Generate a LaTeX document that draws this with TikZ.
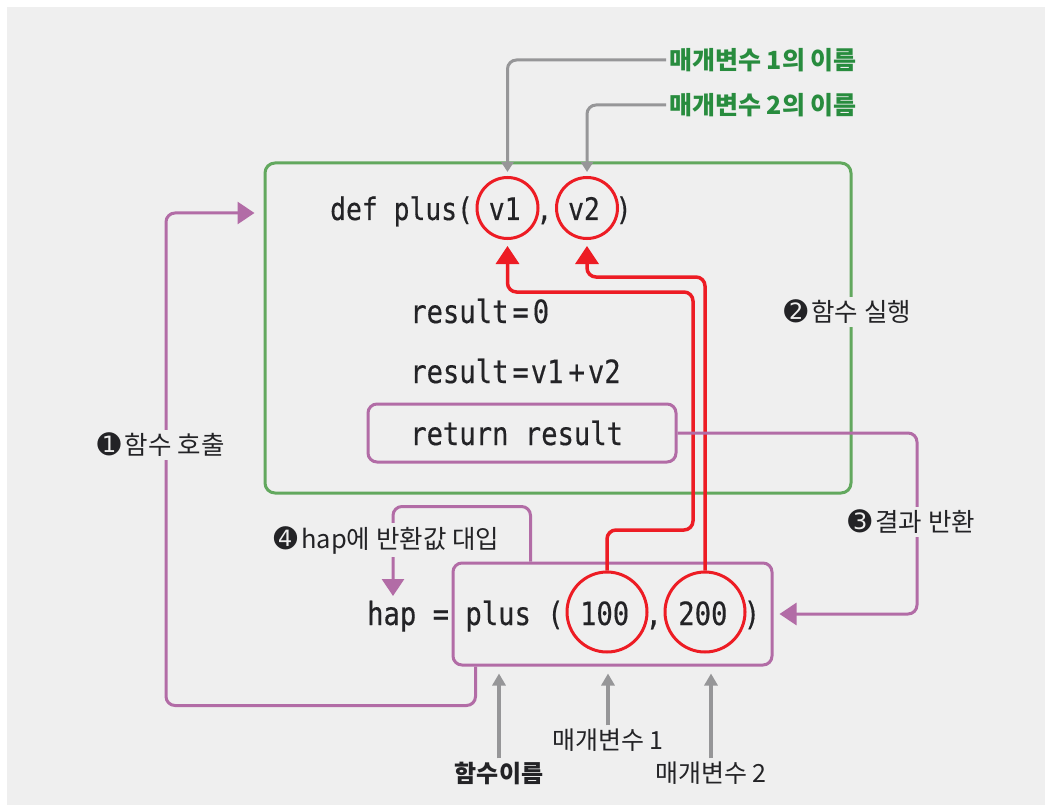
\documentclass[tikz,border=0pt]{standalone}
\usepackage{fontspec}
\usetikzlibrary{arrows.meta}
\setmainfont{Noto Sans CJK KR}
\newfontfamily\codefont[FakeStretch=0.85,FakeBold=0.4]{DejaVu Sans Mono}
\newfontfamily\djfont{DejaVu Sans}
\definecolor{bgc}{RGB}{239,239,239}
\definecolor{grn}{RGB}{98,168,94}
\definecolor{mag}{RGB}{178,108,166}
\definecolor{rdc}{RGB}{237,28,36}
\definecolor{gry}{RGB}{150,150,152}
\definecolor{lgrn}{RGB}{40,140,62}
\definecolor{txt}{RGB}{35,35,38}
\newcommand{\nummark}[1]{{\djfont\fontsize{28}{28}\selectfont #1}\kern4pt}
\begin{document}
\begin{tikzpicture}[x=1pt,y=-1pt,
  codetxt/.style={font=\codefont\fontsize{32}{36}\selectfont, text=txt, inner sep=0pt, anchor=base west},
  gbox/.style={draw=grn, line width=3pt, rounded corners=10pt, rectangle},
  mbox/.style={draw=mag, line width=3pt, rounded corners=9pt, rectangle},
  rcirc/.style={draw=rdc, line width=3pt, circle, inner sep=0pt},
  mline/.style={draw=mag, line width=3pt, rounded corners=9pt, -{Triangle[width=22pt,length=17pt]}},
  rline/.style={draw=rdc, line width=3.5pt, rounded corners=9pt, -{Triangle[width=23pt,length=18pt]}},
  gline/.style={draw=gry, line width=3pt, rounded corners=9pt, -{Triangle[width=12pt,length=10pt]}},
  garrow/.style={draw=gry, line width=4pt, -{Triangle[width=13pt,length=12pt]}},
  lab/.style={font=\fontsize{25}{28}\selectfont, text=txt, inner sep=3pt},
  steplab/.style={font=\fontsize{25.5}{28}\selectfont, text=txt, fill=bgc, inner sep=3pt},
  toplab/.style={font=\bfseries\fontsize{25}{28}\selectfont, text=lgrn, inner sep=3pt, anchor=west}
]
\useasboundingbox (0,0) rectangle (1051,810);
\fill[white] (0,0) rectangle (1051,810);
\fill[bgc] (7,7) rectangle (1045,805);

% boxes
\node[gbox, minimum width=586pt, minimum height=330pt] (func) at (558,328) {};
\node[mbox, minimum width=308pt, minimum height=58pt] (retbox) at (522,433) {};
\node[mbox, minimum width=319pt, minimum height=102pt] (callbox) at (612.5,614) {};

% code text
\node[codetxt, font=\codefont\fontsize{31}{36}\selectfont] (def) at (330,220) {def plus( v1 , v2 )};
\node[codetxt] (r0) at (410,323) {result\kern4pt=\kern4pt0};
\node[codetxt] (r1) at (410,383) {result\kern4pt=\kern2pt v1\kern5pt+\kern3pt v2};
\node[codetxt] (ret) at (410,445) {return result};
\node[codetxt] (hap) at (367,625) {hap = plus ( 100 , 200 )};

% circles
\node[rcirc, minimum size=61pt] (v1) at (507.5,208) {};
\node[rcirc, minimum size=61pt] (v2) at (587,208) {};
\node[rcirc, minimum size=80pt] (c100) at (607,612) {};
\node[rcirc, minimum size=80pt] (c200) at (705,612) {};

% top labels
\node[toplab] (p1name) at (666,60) {매개변수 1의 이름};
\node[toplab] (p2name) at (666,105) {매개변수 2의 이름};
\draw[gline, shorten >=4pt] (p1name.west) -| (v1.north);
\draw[gline, shorten >=4pt] (p2name.west) -| (v2.north);

% red argument lines
\draw[rline, shorten >=6pt] (c100.north) |- (693,530) -- (693,292) -| (v1.south);
\draw[rline, shorten >=6pt] (c200.north) -- (705,277) -| (v2.south);

% magenta flows
\draw[mline, shorten >=9pt] (callbox.south west) ++(24,0) -- ++(0,39) -| (166,213) -- (func.west |- 166,213);
\draw[mline, shorten >=6pt] (retbox.east) -- (917,433) |- (callbox.east);
\draw[mline] (callbox.north west) ++(79,0) -- ++(0,-55) -| (393,596);

% step labels
\node[steplab] (s1) at (161,445) {\nummark{➊}함수 호출};
\node[steplab] (s2) at (847.5,312) {\nummark{➋}함수 실행};
\node[steplab] (s3) at (911.5,522) {\nummark{➌}결과 반환};
\node[steplab] (s4) at (386.5,540) {\nummark{➍}hap에 반환값 대입};

% bottom labels
\node[lab, font=\bfseries\fontsize{24}{28}\selectfont] (fname) at (499,773) {함수이름};
\node[lab] (a1) at (608,740) {매개변수 1};
\node[lab] (a2) at (711,773) {매개변수 2};
\draw[garrow, shorten >=7pt] (fname.north) -- (fname.north |- callbox.south);
\draw[garrow, shorten >=7pt] (a1.north) -- (a1.north |- callbox.south);
\draw[garrow, shorten >=7pt] (a2.north) -- (a2.north |- callbox.south);
\end{tikzpicture}
\end{document}
